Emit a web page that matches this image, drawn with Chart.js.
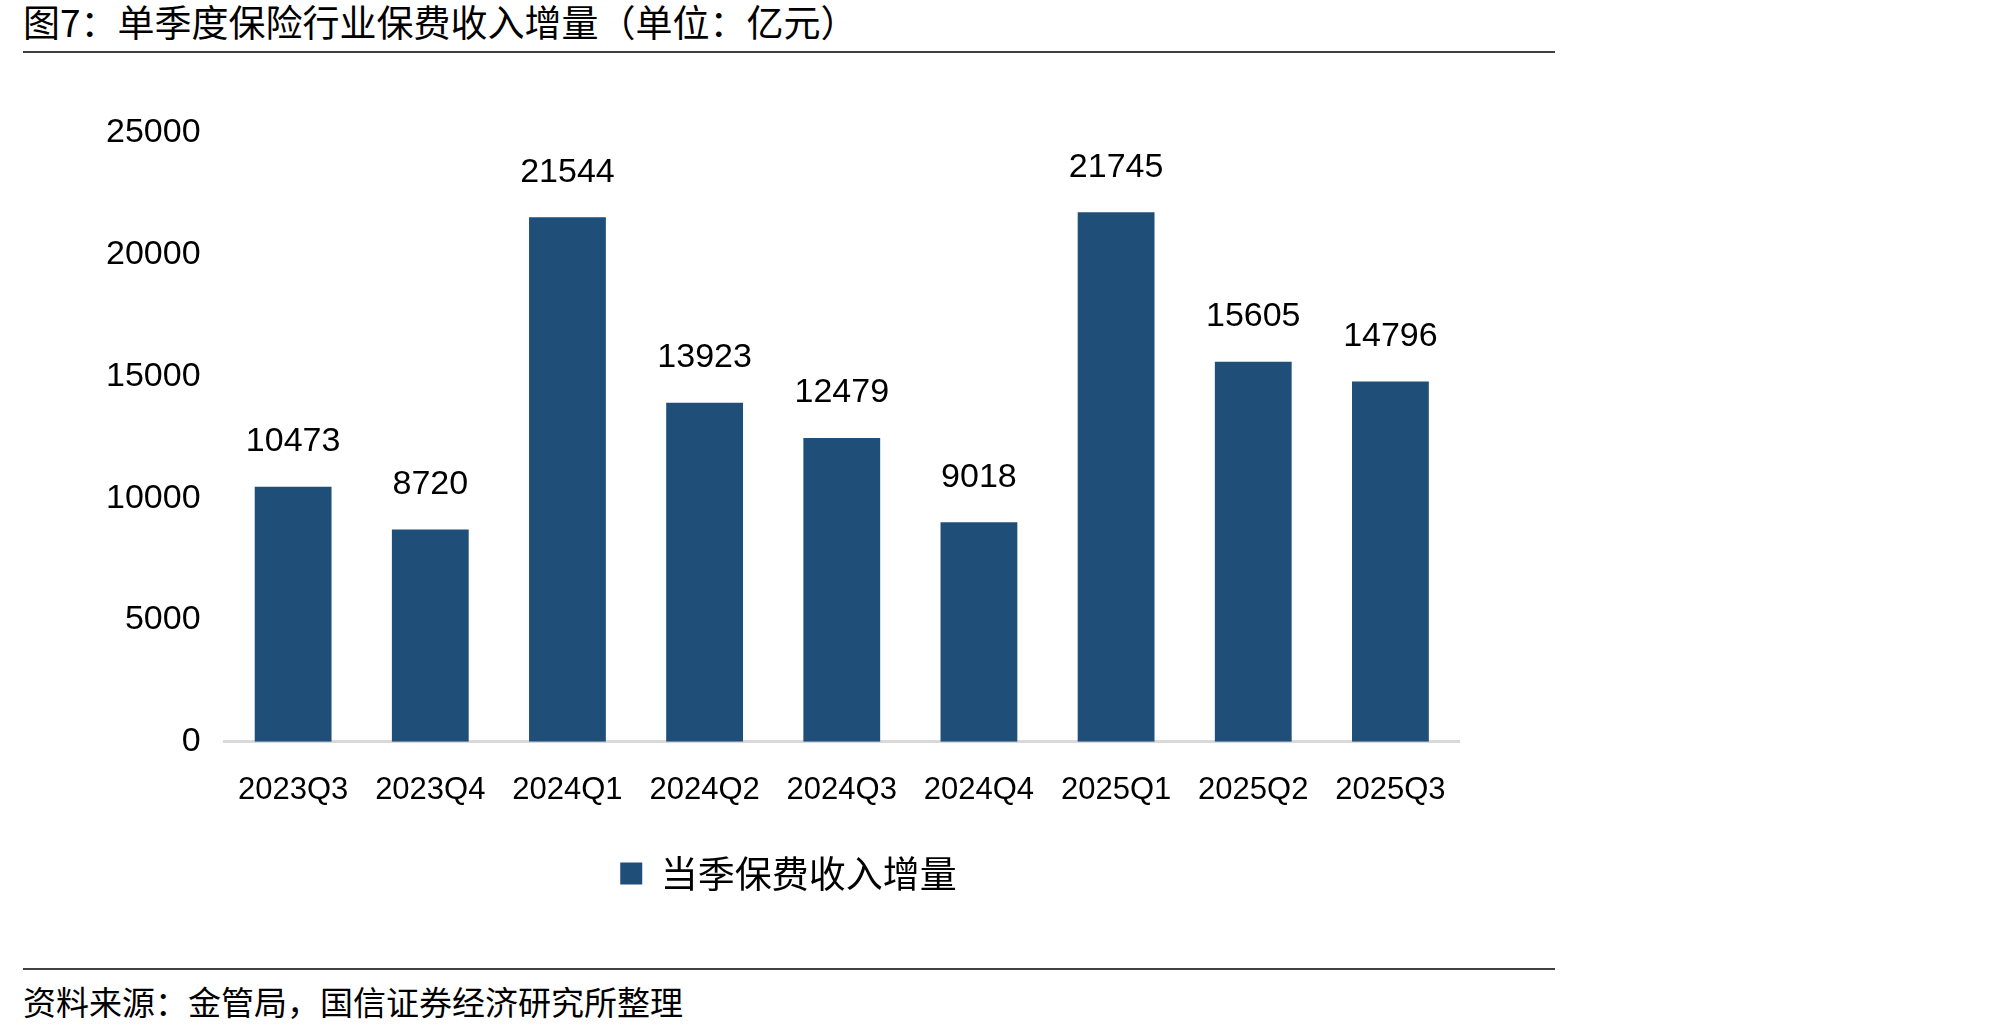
<!DOCTYPE html>
<html>
<head>
<meta charset="utf-8">
<script src="https://cdn.jsdelivr.net/npm/chart.js@4.4.1/dist/chart.umd.min.js"></script>
<style>
  body { margin: 0; background: #fff; width: 2007px; height: 1035px; position: relative; overflow: hidden; }
  .cjk { font-family: "Noto Sans CJK SC", sans-serif; color: #000; position: absolute; white-space: nowrap; }
  #title { left: 23px; top: 1px; font-size: 37px; line-height: 40px; }
  #source { left: 23px; top: 983px; font-size: 33px; line-height: 36px; }
  .rule { position: absolute; left: 23px; width: 1532px; height: 2px; background: #404040; }
  #wrap { position: absolute; left: 0; top: 60px; width: 1500px; height: 900px; }
</style>
</head>
<body>
<div id="title" class="cjk">图7：单季度保险行业保费收入增量（单位：亿元）</div>
<div class="rule" style="top:51px"></div>
<div id="wrap"><canvas id="barChart"></canvas></div>
<div class="rule" style="top:968px"></div>
<div id="source" class="cjk">资料来源：金管局，国信证券经济研究所整理</div>
<script>
// quarters and premium increment (亿元)
var quarters = ['2023Q3', '2023Q4', '2024Q1', '2024Q2', '2024Q3', '2024Q4', '2025Q1', '2025Q2', '2025Q3'];
var premiumAdd = [10473, 8720, 21544, 13923, 12479, 9018, 21745, 15605, 14796];
var seriesName = '当季保费收入增量';
var yTicks = [0, 5000, 10000, 15000, 20000, 25000];

var barColor = '#1F4E79';

// numbers on top of the bars
var valueLabels = {
  id: 'valueLabels',
  afterDatasetsDraw: function(chart){
    var ctx = chart.ctx;
    var meta = chart.getDatasetMeta(0);
    ctx.save();
    ctx.font = '34px "Liberation Sans", Arial, sans-serif';
    ctx.fillStyle = '#000';
    ctx.textAlign = 'center';
    ctx.textBaseline = 'middle';
    meta.data.forEach(function(bar, i){
      ctx.fillText(String(premiumAdd[i]), bar.x, bar.y - 45);
    });
    ctx.restore();
  }
};

// legend sits a bit right of the canvas centre in the original
var legendNudge = {
  id: 'legendNudge',
  afterLayout: function(chart){
    if (chart.legend) {
      chart.legend.left += 18;
      chart.legend.right += 18;
    }
  }
};

var data = {
  labels: quarters,
  datasets: [{
    label: seriesName,
    data: premiumAdd,
    backgroundColor: barColor,
    borderWidth: 0,
    categoryPercentage: 1,
    barPercentage: 0.56
  }]
};

var ctx = document.getElementById('barChart');
var myBarChart = new Chart(ctx, {
  type: 'bar',
  data: data,
  plugins: [valueLabels, legendNudge],
  options: {
    responsive: true,
    maintainAspectRatio: false,
    animation: false,
    layout: { padding: { left: 82, right: 41, top: 73, bottom: 58 } },
    plugins: {
      tooltip: { enabled: false },
      legend: {
        position: 'bottom',
        labels: {
          boxWidth: 22,
          boxHeight: 22,
          padding: 16,
          color: '#000',
          font: { family: '"Noto Sans CJK SC", sans-serif', size: 37 }
        }
      }
    },
    scales: {
      x: {
        grid: { display: false, drawTicks: false },
        border: { display: true, color: '#D9D9D9', width: 3 },
        ticks: {
          color: '#000',
          padding: 30,
          maxRotation: 0,
          font: { family: '"Liberation Sans Narrow", "Liberation Sans", sans-serif', size: 31 }
        }
      },
      y: {
        min: 0,
        max: 25000,
        afterBuildTicks: function(axis){
          axis.ticks = yTicks.map(function(v){ return { value: v }; });
        },
        grid: { display: false, drawTicks: false },
        border: { display: false },
        ticks: {
          color: '#000',
          padding: 24,
          font: { family: '"Liberation Sans", Arial, sans-serif', size: 34 },
          callback: function(v){ return String(v); }
        }
      }
    }
  }
});
</script>
</body>
</html>
